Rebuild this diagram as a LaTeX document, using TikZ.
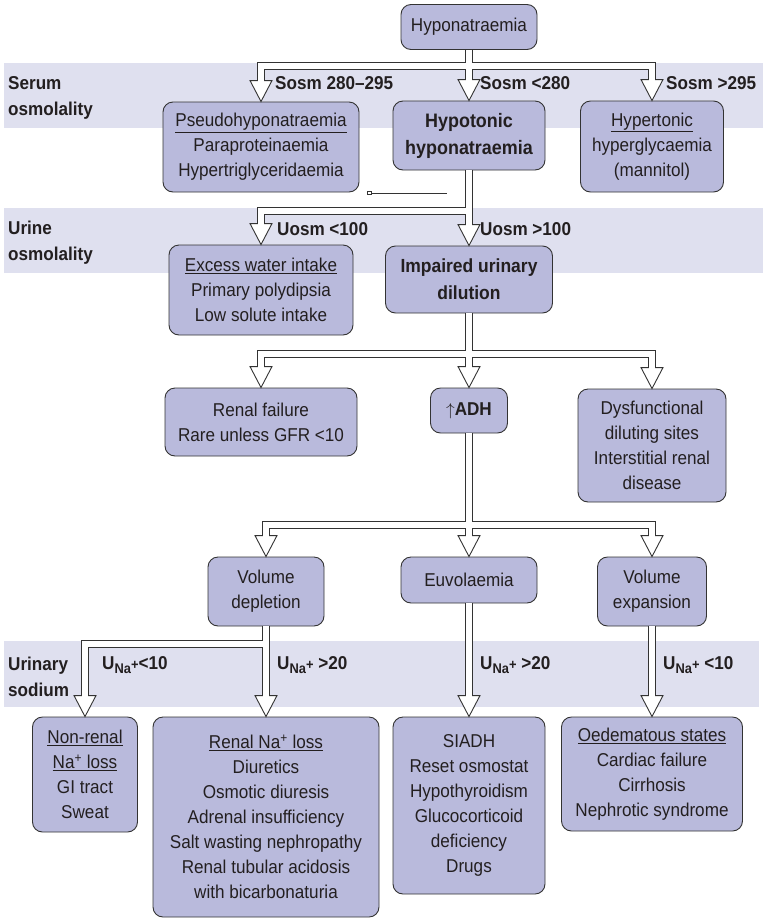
\documentclass[tikz,border=0pt]{standalone}
\usepackage{fontspec}
\setmainfont{Liberation Sans}[FakeStretch=0.92]
\usepackage{tikz}
\usepackage{xcolor}

\definecolor{banda}{HTML}{DFE0EF}
\definecolor{relleno}{HTML}{B9BADC}
\definecolor{trazo}{HTML}{333333}
\definecolor{texto}{HTML}{231F20}

% U con subindice Na+
\newcommand{\una}{U\raisebox{-0.45ex}{\fontsize{14}{14}\selectfont Na\raisebox{0.5ex}{+}}}

% Punta hueca sobre el borde superior de una caja
\newcommand{\punta}[1]{\draw[draw=trazo, fill=white, line width=0.9pt] (#1.north) -- ++(-11,-21) -- ++(22,0) -- cycle;}

% Todas las flechas dobles, con el estilo dado
\newcommand{\conectores}[1]{%
  \draw[#1] (hypo.south) -- (j1) -| (pseudo.north);
  \draw[#1] (j1) -- (hypot.north);
  \draw[#1] (j1) -| (hyper.north);
  \draw[#1] (hypot.south) -- (j2) -| (excess.north);
  \draw[#1] (j2) -- (impaired.north);
  \draw[#1] (impaired.south) -- (j3) -| (renfail.north);
  \draw[#1] (j3) -- (adh.north);
  \draw[#1] (j3) -| (dysf.north);
  \draw[#1] (adh.south) -- (j4) -| (vdep.north);
  \draw[#1] (j4) -- (euvol.north);
  \draw[#1] (j4) -| (vexp.north);
  \draw[#1] (vdep.south) -- (j5) -| (nonren.north);
  \draw[#1] (j5) -- (renal.north);
  \draw[#1] (euvol.south) -- (siadh.north);
  \draw[#1] (vexp.south) -- (oedem.north);
}

\begin{document}
\begin{tikzpicture}[x=1pt, y=-1pt,
    caja/.style={draw=trazo, fill=relleno, rounded corners=10pt, line width=0.9pt, align=center, text=texto, inner sep=0pt, font=\fontsize{18.6}{25}\selectfont},
    etiqueta/.style={anchor=west, text=texto, inner sep=0pt, font=\bfseries\fontsize{18.6}{26}\selectfont},
    tubo/.style={draw=trazo, line width=7.5pt, shorten >=20pt},
    hueco/.style={draw=white, line width=5.5pt, shorten >=18.5pt}]
    \useasboundingbox (0,0) rectangle (763,919);

    % Dibuja las franjas de fondo
    \fill[banda] (4,63) rectangle (763,128);
    \fill[banda] (4,208) rectangle (763,273);
    \fill[banda] (4,641) rectangle (759,707);

    % Titulos de las franjas
    \node (serum) at (8,98) [etiqueta, align=left] {Serum\\osmolality};
    \node (urine) at (8,243) [etiqueta, align=left] {Urine\\osmolality};
    \node (sodium) at (8,677) [etiqueta, align=left] {Urinary\\sodium};

    % Cajas
    \node (hypo) at (469,27) [caja, minimum width=136pt, minimum height=45pt] {Hyponatraemia};
    \node (pseudo) at (261,147) [caja, minimum width=196pt, minimum height=90pt] {\underline{Pseudohyponatraemia}\\Paraproteinaemia\\Hypertriglyceridaemia};
    \node (hypot) at (469,135.5) [caja, minimum width=152pt, minimum height=69pt, font=\bfseries\fontsize{19.5}{27}\selectfont] {Hypotonic\\hyponatraemia};
    \node (hyper) at (652,146.5) [caja, minimum width=143pt, minimum height=91pt] {\underline{Hypertonic}\\hyperglycaemia\\(mannitol)};
    \node (excess) at (261,290) [caja, minimum width=184pt, minimum height=90pt] {\underline{Excess water intake}\\Primary polydipsia\\Low solute intake};
    \node (impaired) at (469,279.5) [caja, minimum width=167pt, minimum height=67pt, font=\bfseries\fontsize{19}{27}\selectfont] {Impaired urinary\\dilution};
    \node (renfail) at (261,422) [caja, minimum width=192pt, minimum height=68pt] {Renal failure\\Rare unless GFR <10};
    \node (adh) at (469,410.5) [caja, minimum width=77pt, minimum height=45pt] {$\uparrow$\textbf{ADH}};
    \node (dysf) at (652,445.5) [caja, minimum width=148pt, minimum height=113pt] {Dysfunctional\\diluting sites\\Interstitial renal\\disease};
    \node (vdep) at (266,591.5) [caja, minimum width=116pt, minimum height=69pt] {Volume\\depletion};
    \node (euvol) at (469,580) [caja, minimum width=136pt, minimum height=46pt] {Euvolaemia};
    \node (vexp) at (652,591.5) [caja, minimum width=109pt, minimum height=69pt] {Volume\\expansion};
    \node (nonren) at (85,774.5) [caja, minimum width=105pt, minimum height=115pt] {\underline{Non-renal}\\\underline{Na\textsuperscript{+} loss}\\GI tract\\Sweat};
    \node (renal) at (266,817) [caja, minimum width=226pt, minimum height=200pt] {\underline{Renal Na\textsuperscript{+} loss}\\Diuretics\\Osmotic diuresis\\Adrenal insufficiency\\Salt wasting nephropathy\\Renal tubular acidosis\\with bicarbonaturia};
    \node (siadh) at (469,805.5) [caja, minimum width=152pt, minimum height=177pt] {SIADH\\Reset osmostat\\Hypothyroidism\\Glucocorticoid\\deficiency\\Drugs};
    \node (oedem) at (652,774) [caja, minimum width=181pt, minimum height=114pt] {\underline{Oedematous states}\\Cardiac failure\\Cirrhosis\\Nephrotic syndrome};

    % Puntos de ramificacion
    \coordinate (j1) at (469,66);
    \coordinate (j2) at (469,211);
    \coordinate (j3) at (469,354);
    \coordinate (j4) at (469,525);
    \coordinate (j5) at (266,644);

    % Flechas: borde, puntas, interior blanco
    \conectores{tubo}
    \foreach \n in {pseudo,hypot,hyper,excess,impaired,renfail,adh,dysf,vdep,euvol,vexp,nonren,renal,siadh,oedem}
        {\punta{\n}}
    \conectores{hueco}

    % Etiquetas de las ramas
    \node (s1) at (275,83) [etiqueta] {Sosm 280–295};
    \node (s2) at (480,83) [etiqueta] {Sosm <280};
    \node (s3) at (666,83) [etiqueta] {Sosm >295};
    \node (u1) at (277,229) [etiqueta] {Uosm <100};
    \node (u2) at (480,229) [etiqueta] {Uosm >100};
    \node (n1) at (102,665) [etiqueta] {\una<10};
    \node (n2) at (277,665) [etiqueta] {\una{} >20};
    \node (n3) at (480,665) [etiqueta] {\una{} >20};
    \node (n4) at (663,665) [etiqueta] {\una{} <10};

    % Trazo suelto bajo la primera caja
    \draw[draw=trazo, line width=0.7pt] (372,193) -- (447,193);
    \draw[draw=trazo, line width=0.5pt] (367,191.5) rectangle (371,194);
\end{tikzpicture}
\end{document}
